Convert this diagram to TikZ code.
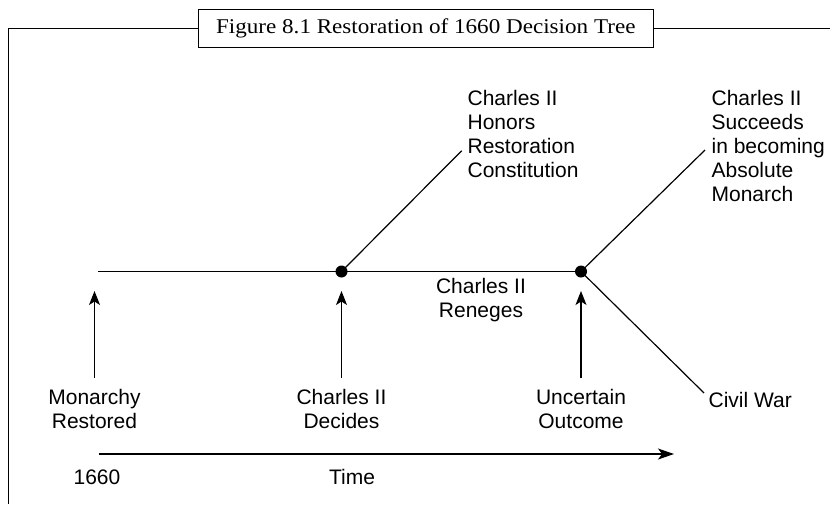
\documentclass[tikz,border=0pt]{standalone}
\usepackage{fontspec}
\setmainfont{Liberation Serif}
\setsansfont{Liberation Sans}
\newfontfamily\titlefont[FakeStretch=1.1]{Liberation Serif}
\usetikzlibrary{arrows.meta}

\begin{document}
\begin{tikzpicture}[x=1pt, y=-1pt, line width=1.2pt]
\tikzset{dotnode/.style={circle,fill,inner sep=0,minimum size=12pt},
txtlabel/.style={font=\sffamily\fontsize{21}{24}\selectfont,inner sep=0},
uparrow/.style={-{Stealth[length=14pt,width=11pt,inset=3.5pt]}},
timearrow/.style={-{Stealth[length=16pt,width=11pt,inset=4pt]}}}

\useasboundingbox (0,0) rectangle (830,504);

%% Frame and title
\node (title) [draw, line width=1pt, minimum width=455pt, minimum height=38.4pt,
  font=\titlefont\fontsize{21}{24}\selectfont] at (425.8,28.5) {Figure 8.1 Restoration of 1660 Decision Tree};
\coordinate (fbl) at (8.3,504);
\coordinate (fr) at (830,28.5);
\draw [line width=1pt] (fbl) |- (title.west);
\draw [line width=1pt] (title.east) -- (fr);

%% Tree
\coordinate (start) at (97.7,271.5);
\node (d1) [dotnode] at (341.5,271.5) {};
\node (d2) [dotnode] at (581,271.5) {};
\coordinate (hon) at (461.7,150.7);
\coordinate (suc) at (705,150);
\coordinate (war) at (704,393);

\draw (start) -- (d1.center) -- (d2.center);
\draw (d1.center) -- (hon);
\draw (d2.center) -- (suc);
\draw (d2.center) -- (war);

\node (honors) [txtlabel,align=left,anchor=north west] at (467,90) {Charles II\\Honors\\Restoration\\Constitution};
\node (succeeds) [txtlabel,align=left,anchor=north west] at (711,90) {Charles II\\Succeeds\\in becoming\\Absolute\\Monarch};
\node (reneges) [txtlabel,align=center,anchor=north] at (481,278) {Charles II\\Reneges};
\node (civilwar) [txtlabel,anchor=north west] at (708,392) {Civil War};

\foreach \u/\x/\lab in {restored/94.5/Monarchy\\Restored, decides/341.5/Charles II\\Decides, outcome/581/Uncertain\\Outcome} {
  \node (\u) [txtlabel,align=center,anchor=north] at (\x,389) {\lab};
  \draw [uparrow] ([yshift=11pt]\u.north) -- ([yshift=98pt]\u.north);
}

%% Time axis
\coordinate (tstart) at (99,454);
\coordinate (tend) at (674,454);
\draw [timearrow] (tstart) -- (tend);
\node (year) [txtlabel,anchor=base] at (97,484) {1660};
\node (timelbl) [txtlabel,anchor=base] at (352,484) {Time};

\end{tikzpicture}
\end{document}
